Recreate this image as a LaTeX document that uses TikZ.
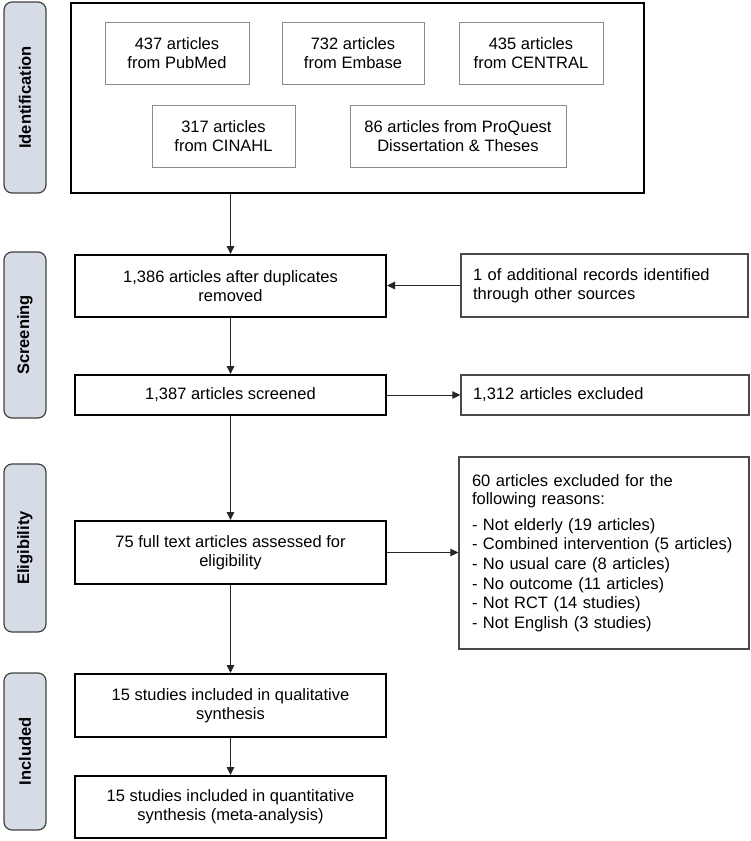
\documentclass[tikz,border=0pt]{standalone}
\usepackage{fontspec}
\setmainfont{Liberation Sans}
\usetikzlibrary{arrows.meta}
\definecolor{sidefill}{HTML}{D6DCE5}
\definecolor{sideline}{HTML}{404040}
\definecolor{thingray}{HTML}{8A8A8A}
\definecolor{rightline}{HTML}{4A4A4A}
\tikzset{
  basefont/.style={font=\fontsize{16.5}{19}\selectfont},
  sidebar/.style={draw=sideline, line width=1.2pt, fill=sidefill, rounded corners=8pt,
    rotate=90, minimum height=42pt, inner sep=0pt,
    font=\fontsize{16.5}{19}\selectfont\bfseries},
  outerbox/.style={draw=black, line width=2pt, inner sep=0pt},
  srcbox/.style={draw=thingray, line width=1pt, align=center, inner sep=0pt,
    font=\fontsize{16.5}{18.5}\selectfont},
  mainbox/.style={draw=black, line width=2pt, align=center, inner sep=0pt,
    minimum width=311pt, basefont},
  sidebox/.style={draw=rightline, line width=1.2pt, align=left, inner xsep=12pt, inner ysep=0pt,
    basefont},
  arr/.style={draw=black!85, line width=1pt, -{Triangle[length=8pt,width=7.5pt]}}
}
\begin{document}
\begin{tikzpicture}[x=1pt,y=-1pt]
\useasboundingbox (0,0) rectangle (750,841);
% phase sidebars
\node[sidebar, minimum width=191pt] (sideId)  at (25,97.5)  {Identification};
\node[sidebar, minimum width=166pt] (sideScr) at (25,335)   {Screening};
\node[sidebar, minimum width=168pt] (sideEl)  at (25,548)   {Eligibility};
\node[sidebar, minimum width=157pt] (sideInc) at (25,751.5) {Included};
% identification
\node[outerbox, minimum width=573pt, minimum height=190pt] (outer) at (357.5,98) {};
\node[srcbox, minimum width=144pt, minimum height=62pt] (pubmed)  at (177,53)  {437 articles\\from PubMed};
\node[srcbox, minimum width=142pt, minimum height=62pt] (embase)  at (353,53)  {732 articles\\from Embase};
\node[srcbox, minimum width=144pt, minimum height=62pt] (central) at (531,53)  {435 articles\\from CENTRAL};
\node[srcbox, minimum width=143pt, minimum height=62pt] (cinahl)  at (223.5,136) {317 articles\\from CINAHL};
\node[srcbox, minimum width=216pt, minimum height=62pt] (proquest) at (458,136) {86 articles from ProQuest\\Dissertation \& Theses};
% main flow
\node[mainbox, minimum height=62pt] (dup)   at (230.5,286)   {1,386 articles after duplicates\\removed};
\node[mainbox, minimum height=40pt] (scr)   at (230.5,395)   {1,387 articles screened};
\node[mainbox, minimum height=63pt] (full)  at (230.5,552.5) {75 full text articles assessed for\\eligibility};
\node[mainbox, minimum height=63pt] (qual)  at (230.5,705.5) {15 studies included in qualitative\\synthesis};
\node[mainbox, minimum height=62pt] (quant) at (230.5,807)   {15 studies included in quantitative\\synthesis (meta-analysis)};
% side boxes
\node[sidebox, text width=263pt, minimum height=63pt] (add) at (604.5,285.5)
  {1 of additional records identified\\through other sources};
\node[sidebox, text width=264pt, minimum height=40pt] (exc1) at (605,395)
  {1,312 articles excluded};
\node[sidebox, text width=264pt, minimum height=192pt, inner xsep=13pt,
      font=\fontsize{16.5}{19.6}\selectfont] (exc2) at (604,553)
  {60 articles excluded for the\\[-1.6pt]following reasons:\\[6.4pt]
   - Not elderly (19 articles)\\
   - Combined intervention (5 articles)\\
   - No usual care (8 articles)\\
   - No outcome (11 articles)\\
   - Not RCT (14 studies)\\
   - Not English (3 studies)};
% connectors
\draw[arr] (dup.north |- outer.south) -- (dup.north);
\draw[arr] (add.west) -- (dup.east |- add.west);
\draw[arr] (dup.south) -- (scr.north);
\draw[arr] (scr.east) -- (exc1.west);
\draw[arr] (scr.south) -- (full.north);
\draw[arr] (full.east) -- (exc2.west |- full.east);
\draw[arr] (full.south) -- (qual.north);
\draw[arr] (qual.south) -- (quant.north);
\end{tikzpicture}
\end{document}
